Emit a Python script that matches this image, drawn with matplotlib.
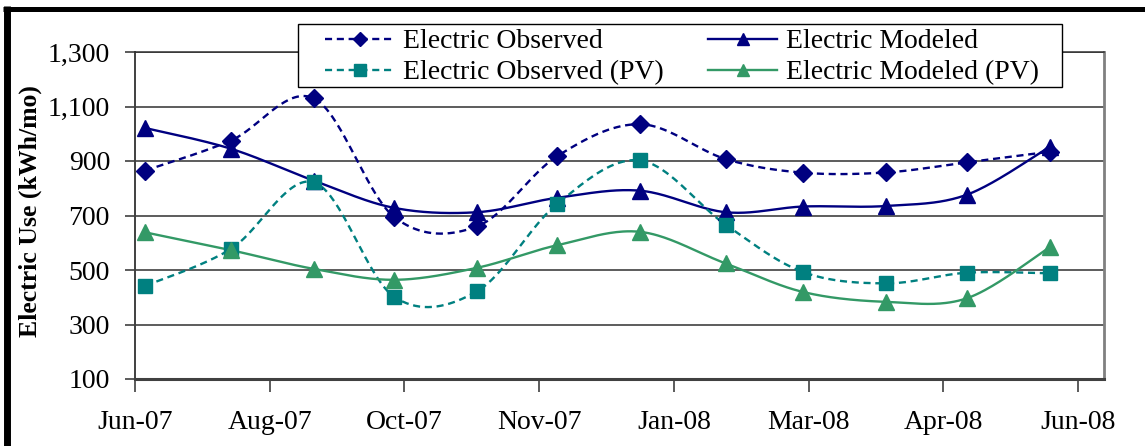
import numpy as np
import matplotlib
matplotlib.use("Agg")
import matplotlib.pyplot as plt
import matplotlib.dates as mdates
from matplotlib.lines import Line2D
from matplotlib.patches import Rectangle

plt.rcParams["font.family"] = ["Liberation Serif", "DejaVu Serif"]

# Meter read dates and monthly electric use (kWh/mo)
read_dates = ["2007-06-24", "2007-07-27", "2007-08-28", "2007-09-28",
              "2007-10-30", "2007-11-30", "2008-01-01", "2008-02-03",
              "2008-03-04", "2008-04-05", "2008-05-06", "2008-06-07"]
elec_observed = [865, 975, 1130, 695, 660, 918, 1035, 907, 857, 858, 895, 934]
elec_modeled = [1021, 945, 828, 728, 712, 765, 791, 712, 733, 735, 776, 952]
elec_observed_pv = [442, 577, 822, 402, 422, 743, 902, 666, 492, 451, 490, 488]
elec_modeled_pv = [638, 573, 504, 464, 508, 591, 640, 524, 419, 383, 396, 583]

series_labels = ["Electric Observed", "Electric Modeled",
                 "Electric Observed (PV)", "Electric Modeled (PV)"]
y_ticks = [100, 300, 500, 700, 900, 1100, 1300]

NAVY = "#000080"
TEAL = "#008080"
GREEN = "#339966"

W, H = 1145, 446


def smooth(x, y, n=40):
    """Catmull-Rom style Bezier smoothing passing through every point."""
    pts = np.column_stack([np.asarray(x, float), np.asarray(y, float)])
    ext = np.vstack([pts[:1], pts, pts[-1:]])
    t = np.linspace(0, 1, n)[:, None]
    out = []
    for i in range(1, len(pts)):
        p_prev, p0, p1, p_next = ext[i - 1], ext[i], ext[i + 1], ext[i + 2]
        c1 = p0 + (p1 - p_prev) / 6.0
        c2 = p1 - (p_next - p0) / 6.0
        b = ((1 - t) ** 3) * p0 + 3 * ((1 - t) ** 2) * t * c1 \
            + 3 * (1 - t) * t ** 2 * c2 + t ** 3 * p1
        out.append(b)
    b = np.vstack(out)
    return b[:, 0], b[:, 1]


dates = mdates.date2num(np.array(read_dates, dtype="datetime64[D]"))

fig = plt.figure(figsize=(W / 100, H / 100), dpi=100)
fig.patch.set_facecolor("white")
ax = fig.add_axes([135 / W, 1 - 379 / H, (1104 - 135) / W, 327 / H])

styles = [
    (elec_observed, NAVY, "D", 9, (0, (3, 2))),
    (elec_modeled, NAVY, "^", 11, "-"),
    (elec_observed_pv, TEAL, "s", 10, (0, (3, 2))),
    (elec_modeled_pv, GREEN, "^", 11, "-"),
]
handles = []
for (vals, col, mk, ms, ls), lab in zip(styles, series_labels):
    sx, sy = smooth(dates, vals)
    ax.plot(sx, sy, color=col, lw=1.7, ls=ls, zorder=3)
    ax.plot(dates, vals, ls="none", marker=mk, ms=ms, color=col,
            markeredgecolor=col, zorder=4)
    handles.append(Line2D([], [], color=col, lw=1.7, ls=ls, marker=mk,
                          ms=ms * 0.8, markeredgecolor=col, markerfacecolor=col))

# legend box outline
fig.add_artist(Rectangle((298 / W, 1 - 87 / H), (1062 - 298) / W, 63 / H,
                         transform=fig.transFigure, facecolor="white",
                         edgecolor="black", lw=1.0, zorder=5))

# two-column legend filled row by row
leg = fig.legend([handles[0], handles[2], handles[1], handles[3]],
                 [series_labels[0], series_labels[2], series_labels[1], series_labels[3]],
                 ncol=2, loc="upper left",
                 bbox_to_anchor=(325 / W, 1 - 29 / H),
                 fontsize=20, frameon=False,
                 handlelength=2.5, handletextpad=0.3, columnspacing=1.6,
                 labelspacing=0.2, borderpad=0, borderaxespad=0)
leg.set_zorder(6)

start = np.datetime64("2007-06-20")
x_ticks = mdates.date2num(start + np.arange(8) * np.timedelta64(52, "D"))
ax.set_xlim(mdates.date2num(start), mdates.date2num(start + np.timedelta64(374, "D")))
ax.set_xticks(x_ticks)
ax.xaxis.set_major_formatter(mdates.DateFormatter("%b-%y"))

ax.set_ylim(100, 1300)
ax.set_yticks(y_ticks)
ax.set_yticklabels([f"{v:,}" for v in y_ticks])
ax.yaxis.grid(True, color="#303030", lw=1.1)
ax.set_axisbelow(True)

ax.tick_params(axis="y", direction="out", length=7, width=1.2, color="#404040",
               labelsize=20, pad=11)
ax.tick_params(axis="x", direction="out", length=9, width=1.2, color="#404040",
               labelsize=20, pad=13)

for side in ["left", "bottom"]:
    ax.spines[side].set_color("#404040")
ax.spines["left"].set_linewidth(1.4)
ax.spines["bottom"].set_linewidth(2.2)
ax.spines["top"].set_color("#303030")
ax.spines["top"].set_linewidth(1.1)
ax.spines["right"].set_color("#808080")
ax.spines["right"].set_linewidth(2.0)

ax.set_ylabel("Electric Use (kWh/mo)", fontsize=18.5, fontweight="bold")
ax.yaxis.set_label_coords((42 - 135) / 969, 0.514)

# heavy black frame around the chart
fig.add_artist(Line2D([6.5 / W, 6.5 / W], [0, 1 - 6 / H], color="black",
                      lw=5.0, transform=fig.transFigure, solid_capstyle="butt"))
fig.add_artist(Line2D([3 / W, 1], [1 - 8.5 / H, 1 - 8.5 / H], color="black",
                      lw=3.6, transform=fig.transFigure, solid_capstyle="butt"))

fig.savefig("out.png", dpi=100, facecolor="white")
